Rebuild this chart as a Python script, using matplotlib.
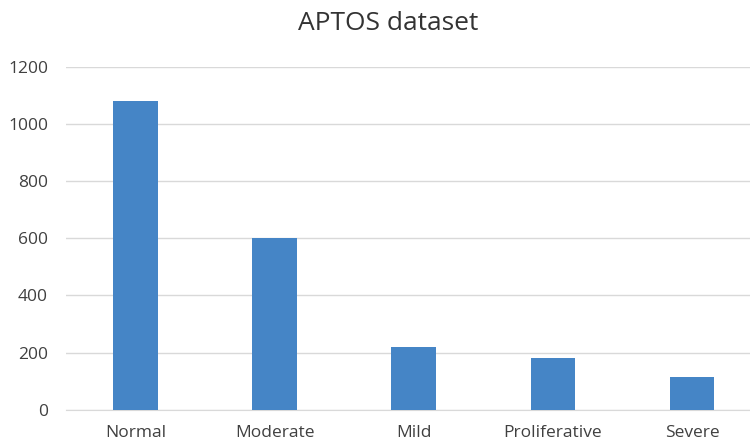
import numpy as np
import matplotlib.pyplot as plt

categories = ['Normal', 'Moderate', 'Mild', 'Proliferative', 'Severe']
counts = [1080, 600, 220, 180, 116]
yticks = [0, 200, 400, 600, 800, 1000, 1200]

plt.rcParams['font.family'] = ['Open Sans', 'DejaVu Sans']
text_color = '#404040'

fig = plt.figure(figsize=(7.5, 4.43), dpi=100)
ax = fig.add_axes([66 / 750, 33.3 / 443, 684 / 750, 342.7 / 443])

x = np.arange(len(categories))
ax.bar(x, counts, width=0.32, color='#4585c6', zorder=3)

ax.set_xlim(-0.5, 684 / 139.1 - 0.5)
ax.set_ylim(0, 1200)
ax.set_yticks(yticks)
ax.set_yticklabels([str(v) for v in yticks])
ax.set_xticks(x)
ax.set_xticklabels(categories)
ax.yaxis.grid(True, color='#d9d9d9', linewidth=1, zorder=0)
ax.tick_params(axis='y', length=0, pad=13, labelsize=12.5, labelcolor=text_color)
ax.tick_params(axis='x', length=0, pad=11, labelsize=12.5, labelcolor=text_color)
for side in ['top', 'right', 'left']:
    ax.spines[side].set_visible(False)
ax.spines['bottom'].set_color('#d9d9d9')

fig.text(388 / 750, 1 - 23 / 443, 'APTOS dataset', ha='center', va='center',
         fontsize=19, color='#333333')

fig.savefig('out.png', dpi=100)
